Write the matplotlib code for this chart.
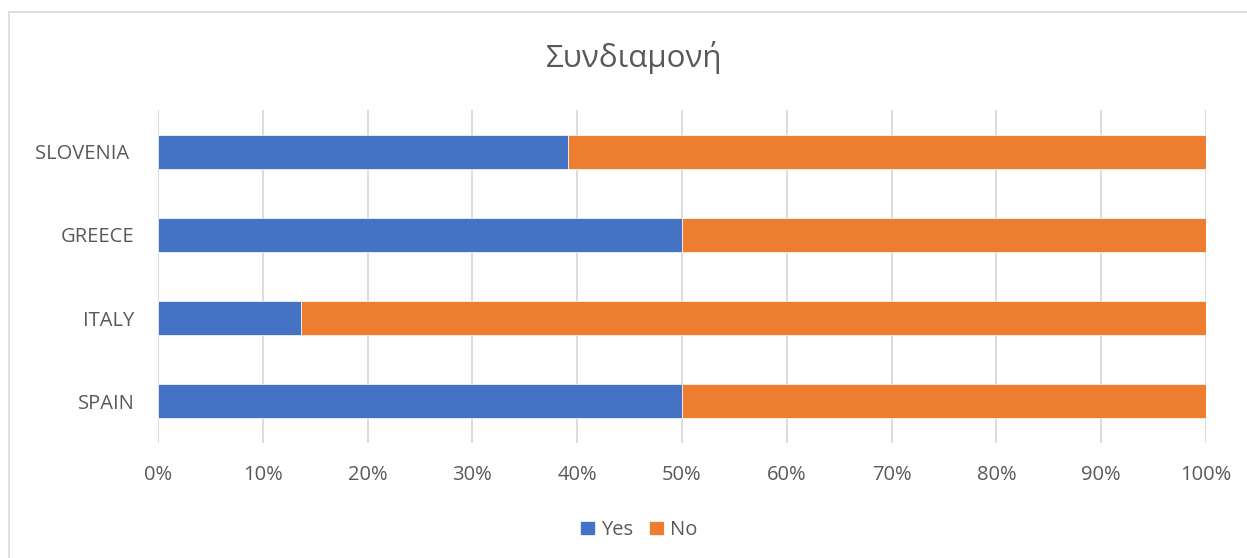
import matplotlib
matplotlib.use("Agg")
import matplotlib.pyplot as plt
import matplotlib.ticker as ticker
from matplotlib.patches import Rectangle

# Data (bottom to top, as drawn)
countries = ["SPAIN", "ITALY", "GREECE", "SLOVENIA "]
yes = [50.0, 13.6, 50.0, 39.1]
no = [50.0, 86.4, 50.0, 60.9]

BLUE = "#4472C4"
ORANGE = "#ED7D31"
TEXT = "#595959"
GRID = "#D9D9D9"

plt.rcParams['font.family'] = ["Open Sans", "DejaVu Sans"]

fig = plt.figure(figsize=(12.47, 5.58), dpi=100)
ax = fig.add_axes([158/1247, 1 - 443/558, 1048/1247, 333/558])

# chart frame
fig.patches.append(Rectangle((9/1247, -0.1), 1.2, 1 - 12/558 + 0.1,
                             transform=fig.transFigure, fill=False,
                             edgecolor="#D9D9D9", linewidth=1.2))

pos = range(len(countries))
ax.barh(pos, yes, height=0.41, color=BLUE, label="Yes", zorder=3,
        edgecolor="white", linewidth=0.5)
ax.barh(pos, no, left=yes, height=0.41, color=ORANGE, label="No", zorder=3,
        edgecolor="white", linewidth=0.5)

ax.set_xlim(0, 100)
ax.set_ylim(-0.5, len(countries) - 0.5)
ax.set_yticks(list(pos))
ax.set_yticklabels(countries)
ax.xaxis.set_major_locator(ticker.MultipleLocator(10))
ax.xaxis.set_major_formatter(ticker.FormatStrFormatter('%d%%'))

ax.grid(axis="x", color=GRID, linewidth=1.3, zorder=0)
for s in ax.spines.values():
    s.set_visible(False)
ax.tick_params(axis="both", length=0, colors=TEXT, labelsize=14.5)
ax.tick_params(axis="x", pad=16)
ax.tick_params(axis="y", pad=17)

fig.text(634/1247, 1 - 58/558, "Συνδιαμονή", ha="center", va="center",
         fontsize=22.5, color=TEXT)

leg = fig.legend(loc="center", bbox_to_anchor=(0.512, 1 - 530/558), ncol=2,
                 frameon=False, handlelength=0.75, handleheight=0.75,
                 handletextpad=0.3, columnspacing=0.8, fontsize=14.5)
for t in leg.get_texts():
    t.set_color(TEXT)

fig.savefig("out.png", dpi=100)
